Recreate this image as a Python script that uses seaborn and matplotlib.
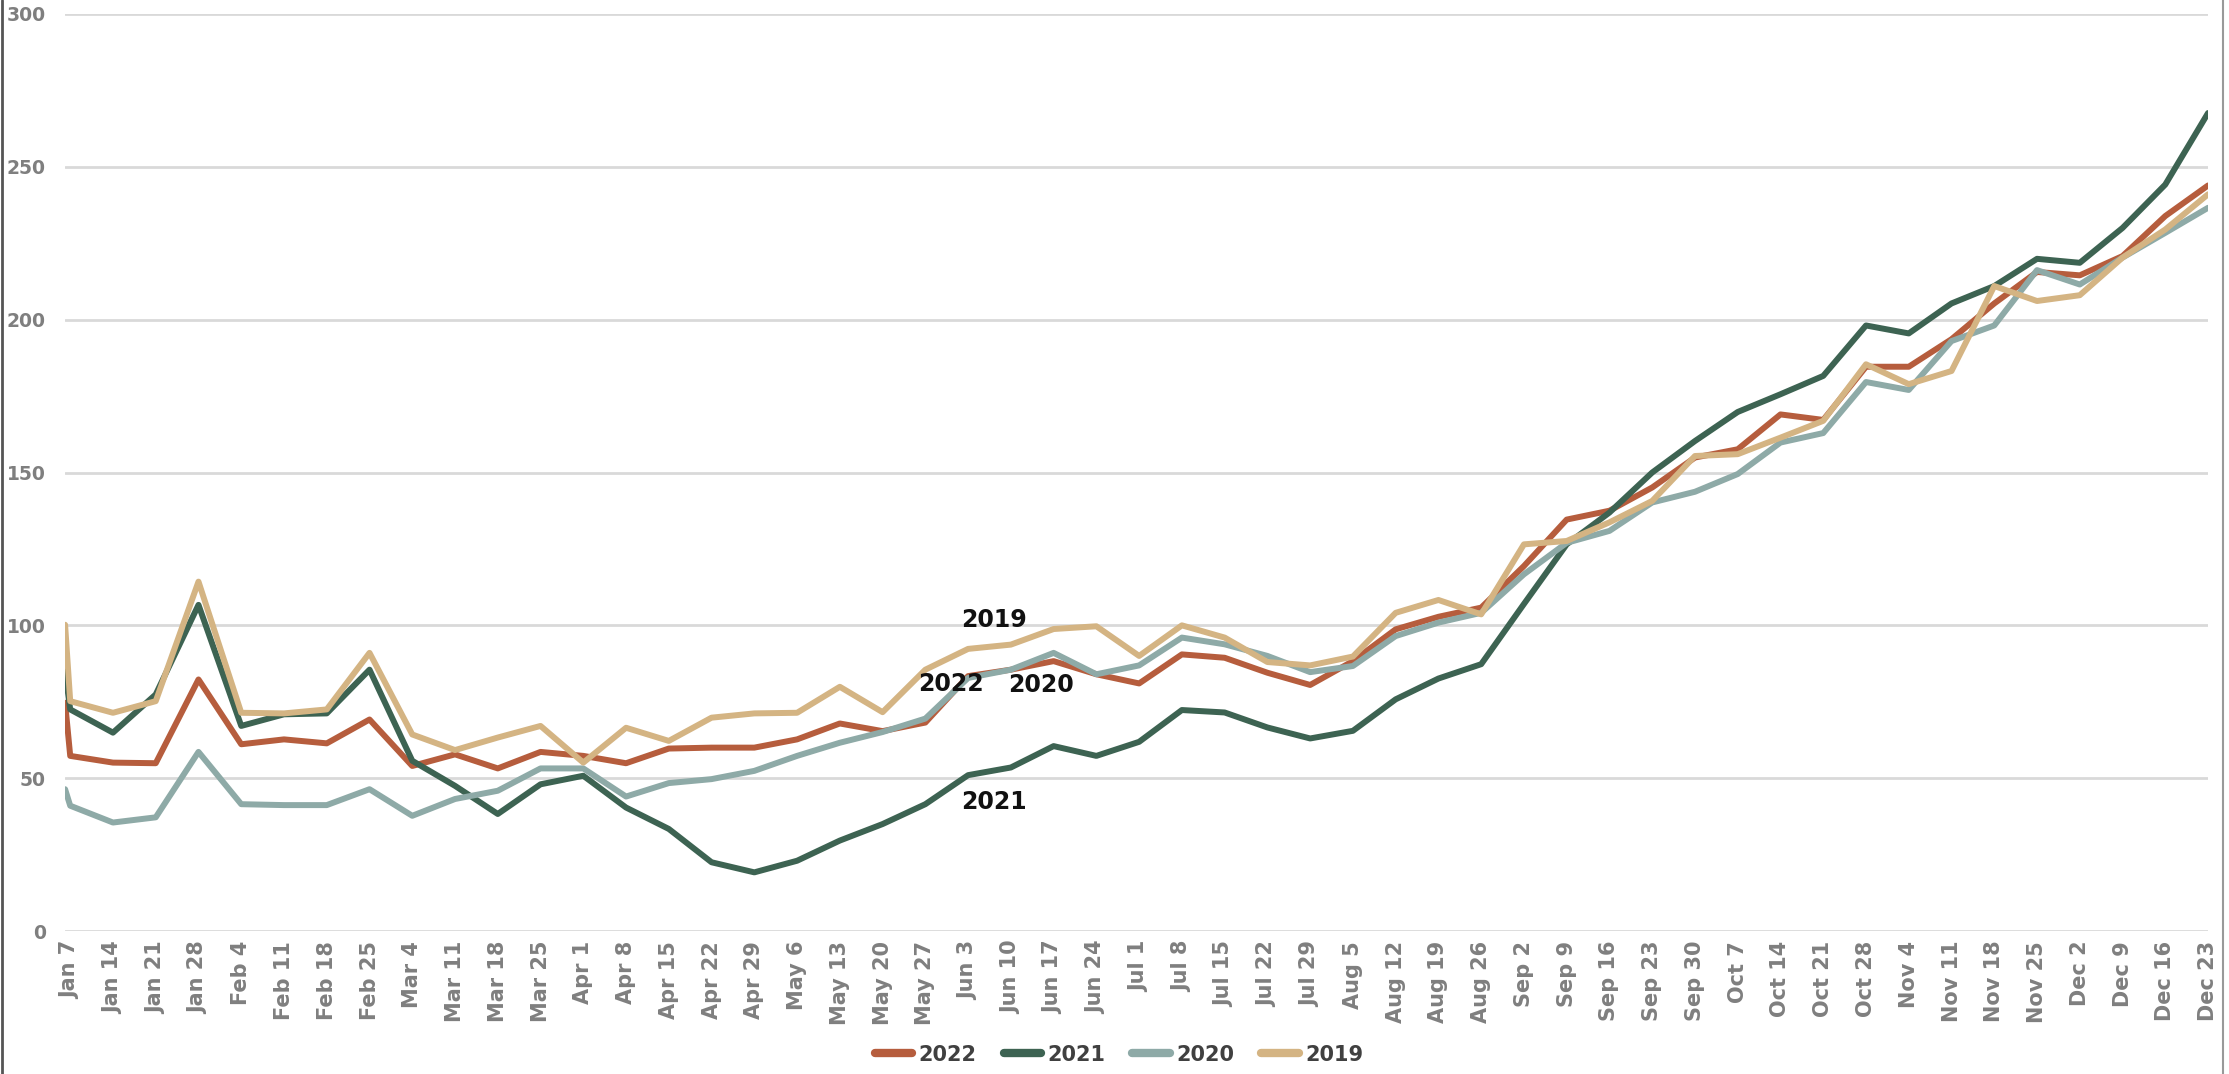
"""
Weekly index by year, 2019-2022, recreated with seaborn
"""

## Import packages
import numpy as np
import pandas as pd
import matplotlib
matplotlib.use('Agg')
import matplotlib.pyplot as plt
import seaborn as sns
from matplotlib.lines import Line2D


## Data
weeks = ['Jan 7', 'Jan 14', 'Jan 21', 'Jan 28', 'Feb 4', 'Feb 11', 'Feb 18', 'Feb 25',
         'Mar 4', 'Mar 11', 'Mar 18', 'Mar 25', 'Apr 1', 'Apr 8', 'Apr 15', 'Apr 22',
         'Apr 29', 'May 6', 'May 13', 'May 20', 'May 27', 'Jun 3', 'Jun 10', 'Jun 17',
         'Jun 24', 'Jul 1', 'Jul 8', 'Jul 15', 'Jul 22', 'Jul 29', 'Aug 5', 'Aug 12',
         'Aug 19', 'Aug 26', 'Sep 2', 'Sep 9', 'Sep 16', 'Sep 23', 'Sep 30', 'Oct 7',
         'Oct 14', 'Oct 21', 'Oct 28', 'Nov 4', 'Nov 11', 'Nov 18', 'Nov 25', 'Dec 2',
         'Dec 9', 'Dec 16', 'Dec 23']

# The series begin with one opening value just before the first week
start_pos = -0.12

y2022 = [74.7, 57.3, 55.1, 54.9, 82.3, 61.1, 62.7, 61.4, 69.2, 54.0, 57.8, 53.2, 58.6,
         57.3, 54.9, 59.7, 60.0, 60.0, 62.7, 67.9, 65.4, 68.2, 83.4, 85.5, 88.3, 84.0,
         81.0, 90.5, 89.4, 84.5, 80.5, 88.3, 98.7, 102.8, 105.8, 119.4, 134.6, 137.5,
         145.1, 154.9, 157.6, 169.0, 167.2, 184.6, 184.6, 193.6, 205.3, 215.6, 214.5,
         220.8, 233.9, 243.9]

y2021 = [85.0, 72.5, 64.9, 77.4, 106.7, 67.1, 70.9, 71.2, 85.5, 55.7, 47.5, 38.3, 48.0,
         50.8, 40.4, 33.4, 22.5, 19.2, 23.0, 29.6, 35.0, 41.5, 51.0, 53.5, 60.5, 57.3,
         61.9, 72.3, 71.5, 66.6, 63.0, 65.5, 75.8, 82.6, 87.3, 107.0, 126.5, 136.9,
         150.0, 160.3, 169.8, 175.6, 181.6, 198.1, 195.5, 205.3, 211.0, 219.9, 218.6,
         230.0, 244.2, 267.6]

y2020 = [46.4, 41.0, 35.5, 37.2, 58.6, 41.5, 41.2, 41.2, 46.4, 37.7, 43.2, 45.9, 53.2,
         53.2, 44.0, 48.4, 49.7, 52.4, 57.3, 61.6, 65.1, 69.5, 82.8, 85.5, 91.0, 84.0,
         86.9, 96.0, 93.8, 90.0, 84.7, 86.7, 96.5, 100.9, 104.1, 116.7, 127.0, 130.9,
         140.2, 143.7, 149.5, 159.8, 162.9, 179.6, 177.0, 193.0, 198.1, 216.2, 211.5,
         220.3, 228.4, 236.6]

y2019 = [100.2, 75.2, 71.4, 75.2, 114.3, 71.4, 71.2, 72.5, 91.0, 64.3, 59.2, 63.3, 67.1,
         55.1, 66.5, 62.2, 69.8, 71.2, 71.4, 79.9, 71.6, 85.5, 92.3, 93.7, 98.8, 99.7,
         90.0, 100.0, 96.0, 88.0, 86.9, 89.8, 104.1, 108.3, 103.6, 126.5, 127.6, 133.7,
         140.7, 155.4, 156.0, 161.4, 166.9, 185.4, 178.9, 183.2, 211.0, 206.1, 208.0,
         220.3, 229.5, 241.0]

years = ['2022', '2021', '2020', '2019']
series = [y2022, y2021, y2020, y2019]

# Labels written into the plot area: (year, week position, value)
label_years = ['2019', '2022', '2020', '2021']
label_pos = [21.6, 20.6, 22.7, 21.6]
label_vals = [101.7, 80.8, 80.5, 42.2]


## Long-form table for seaborn
pos = [start_pos] + list(range(len(weeks)))
df = pd.concat([pd.DataFrame({'pos': pos, 'value': s, 'year': y})
                for y, s in zip(years, series)], ignore_index=True)


## Figure parameters
colors = {'2022': '#b65d3d', '2021': '#3d6352', '2020': '#8eaaa7', '2019': '#d4b483'}
tick_grey = '#7f7f7f'
grid_grey = '#d9d9d9'
lw = 4.3


## Create figure
sns.set_theme(style='white')
plt.rcParams['font.family'] = ['DejaVu Sans']

fig = plt.figure(figsize=(22.29, 10.74), dpi=100)
ax = fig.add_axes([0.0292, 0.1331, 0.9614, 0.8539])

# Horizontal gridlines behind the lines
for v in range(0, 301, 50):
    ax.axhline(v, color=grid_grey, lw=2, zorder=0)

sns.lineplot(data=df, x='pos', y='value', hue='year', hue_order=years,
             palette=colors, linewidth=lw, ax=ax, legend=False, sort=False)

# In-plot year labels
for t, x, v in zip(label_years, label_pos, label_vals):
    ax.text(x, v, t, ha='center', va='center', fontsize=17, fontweight='bold',
            color='#111111')

# Axes and ticks
ax.set_xlim(start_pos, len(weeks) - 1)
ax.set_ylim(0, 300)
ax.set_xticks(range(len(weeks)))
ax.set_xticklabels(weeks, rotation=90)
ax.set_yticks(range(0, 301, 50))
ax.set_xlabel('')
ax.set_ylabel('')
ax.tick_params(axis='x', length=0, pad=7, labelsize=15, labelcolor=tick_grey)
ax.tick_params(axis='y', length=0, pad=14, labelsize=13.5, labelcolor=tick_grey)
for lab in ax.get_xticklabels() + ax.get_yticklabels():
    lab.set_fontweight('bold')
for sp in ax.spines.values():
    sp.set_visible(False)

# Legend at the bottom
handles = [Line2D([0], [0], color=colors[y], lw=6, solid_capstyle='round', label=y)
           for y in years]
leg = fig.legend(handles=handles, loc='center', bbox_to_anchor=(0.502, 0.018), ncol=4,
                 frameon=False, handlelength=1.8, handletextpad=0.3, columnspacing=1.3,
                 prop={'weight': 'bold', 'size': 15})
for txt in leg.get_texts():
    txt.set_color('#404040')

# Thin border at the left and right edges of the picture
fig.add_artist(Line2D([0.0007, 0.0007], [0, 1], color='#555555', lw=2))
fig.add_artist(Line2D([0.9975, 0.9975], [0, 1], color='#999999', lw=1.5))

plt.savefig('out.png', dpi=100)
